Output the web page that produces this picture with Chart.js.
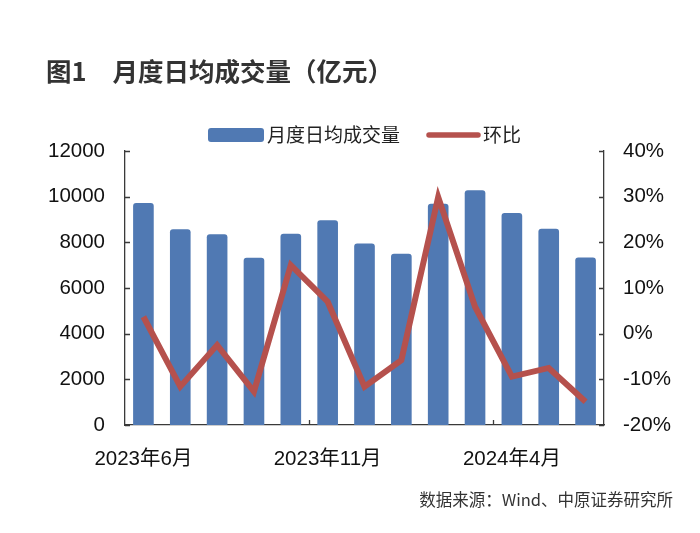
<!DOCTYPE html>
<html>
<head>
<meta charset="utf-8">
<script src="https://cdn.jsdelivr.net/npm/chart.js@4.4.1/dist/chart.umd.min.js"></script>
<style>
  html, body { margin: 0; padding: 0; background: #fff; }
  #wrap { position: relative; width: 700px; height: 533px; overflow: hidden; }
  #chart { position: absolute; left: 0; top: 0; }
  .title { position: absolute; left: 46px; top: 55px; font: bold 25.5px "Noto Sans CJK SC", sans-serif; line-height: 30px; color: #333; white-space: nowrap; }
  .title span { margin-left: 26px; }
  .source { position: absolute; right: 27px; top: 488px; font: 16.5px "Noto Sans CJK SC", sans-serif; line-height: 22px; color: #333; white-space: nowrap; }
</style>
</head>
<body>
<div id="wrap">
  <canvas id="chart" width="700" height="533"></canvas>
  <div class="title">图1<span>月度日均成交量（亿元）</span></div>
  <div class="source">数据来源：Wind、中原证券研究所</div>
</div>
<script>
// data
var months = ['2023年6月', '2023年7月', '2023年8月', '2023年9月', '2023年10月', '2023年11月', '2023年12月',
              '2024年1月', '2024年2月', '2024年3月', '2024年4月', '2024年5月', '2024年6月'];
var volume = [9720, 8575, 8355, 7320, 8380, 8970, 7950, 7500, 9695, 10280, 9290, 8590, 7335];
var mom = [3.7, -11.6, -2.5, -12.7, 15.0, 7.0, -11.6, -5.8, 29.9, 5.9, -9.4, -7.5, -14.9];
var leftTicks = [0, 2000, 4000, 6000, 8000, 10000, 12000];
var rightTicks = [-20, -10, 0, 10, 20, 30, 40];

var barColor = '#5079b3';
var lineColor = '#b5514d';
var axisColor = '#3a3a3a';
var numFont = '"Liberation Sans", "Noto Sans CJK SC", sans-serif';
var cjkFont = '"Noto Sans CJK SC", sans-serif';

// short tick marks drawn on the inner side of the axes
var innerTicks = {
    id: 'innerTicks',
    afterDraw: function (chart) {
        var ctx = chart.ctx, a = chart.chartArea;
        var x = chart.scales.x, y = chart.scales.y, y1 = chart.scales.y1;
        ctx.save();
        ctx.strokeStyle = axisColor;
        ctx.lineWidth = 1.3;
        ctx.beginPath();
        leftTicks.forEach(function (v) {
            var p = Math.round(y.getPixelForValue(v)) + 0.5;
            ctx.moveTo(a.left, p); ctx.lineTo(a.left + 5, p);
        });
        rightTicks.forEach(function (v) {
            var p = Math.round(y1.getPixelForValue(v)) + 0.5;
            ctx.moveTo(a.right, p); ctx.lineTo(a.right - 5, p);
        });
        for (var i = 5; i < months.length; i += 5) {
            var p = Math.round((x.getPixelForValue(i - 1) + x.getPixelForValue(i)) / 2) + 0.5;
            ctx.moveTo(p, a.bottom); ctx.lineTo(p, a.bottom - 5);
        }
        ctx.stroke();
        ctx.restore();
    }
};

// legend drawn above the plot, centred on the plot area
var topLegend = {
    id: 'topLegend',
    afterDraw: function (chart) {
        var ctx = chart.ctx, a = chart.chartArea;
        var names = [chart.data.datasets[1].label, chart.data.datasets[0].label];
        ctx.save();
        ctx.font = '19px ' + cjkFont;
        var w1 = ctx.measureText(names[0]).width;
        var w2 = ctx.measureText(names[1]).width;
        var total = 56 + 3 + w1 + 27 + 53 + 3 + w2;
        var x0 = (a.left + a.right) / 2 - total / 2;
        var cy = 135;
        ctx.fillStyle = barColor;
        ctx.beginPath();
        ctx.roundRect(x0, cy - 7, 56, 14, 3);
        ctx.fill();
        ctx.fillStyle = '#222';
        ctx.textBaseline = 'middle';
        ctx.fillText(names[0], x0 + 59, cy);
        var lx = x0 + 59 + w1 + 27;
        ctx.strokeStyle = lineColor;
        ctx.lineWidth = 5.5;
        ctx.lineCap = 'round';
        ctx.beginPath();
        ctx.moveTo(lx + 2, cy); ctx.lineTo(lx + 51, cy);
        ctx.stroke();
        ctx.fillText(names[1], lx + 56, cy);
        ctx.restore();
    }
};

var ctx = document.getElementById('chart').getContext('2d');
var chart = new Chart(ctx, {
    data: {
        labels: months,
        datasets: [{
            type: 'line',
            label: '环比',
            data: mom,
            yAxisID: 'y1',
            borderColor: lineColor,
            backgroundColor: lineColor,
            borderWidth: 6,
            pointRadius: 0,
            tension: 0,
            order: 0
        }, {
            type: 'bar',
            label: '月度日均成交量',
            data: volume,
            yAxisID: 'y',
            backgroundColor: barColor,
            borderRadius: 3,
            borderSkipped: 'bottom',
            barPercentage: 0.56,
            categoryPercentage: 1,
            order: 1
        }]
    },
    options: {
        responsive: false,
        animation: false,
        devicePixelRatio: 1,
        layout: { padding: { top: 151, left: 0, right: 0, bottom: 0 } },
        plugins: {
            legend: { display: false },
            title: { display: false },
            tooltip: { enabled: false }
        },
        scales: {
            x: {
                type: 'category',
                offset: true,
                grid: { display: false, drawTicks: false },
                border: { display: true, color: axisColor, width: 1.3 },
                ticks: {
                    autoSkip: false,
                    maxRotation: 0,
                    padding: 22,
                    color: '#111',
                    font: { family: numFont, size: 20.5 },
                    callback: function (v, i) { return i % 5 === 0 ? months[i] : ''; }
                },
                afterFit: function (s) { s.height = 108; }
            },
            y: {
                position: 'left',
                min: 0,
                max: 12000,
                grid: { display: false, drawTicks: false },
                border: { display: true, color: axisColor, width: 1.3 },
                ticks: {
                    stepSize: 2000,
                    padding: 20,
                    color: '#111',
                    font: { family: numFont, size: 20.5 },
                    callback: function (v) { return String(v); }
                },
                afterFit: function (s) { s.width = 125; }
            },
            y1: {
                position: 'right',
                min: -20,
                max: 40,
                grid: { display: false, drawTicks: false },
                border: { display: true, color: axisColor, width: 1.3 },
                ticks: {
                    stepSize: 10,
                    padding: 19,
                    color: '#111',
                    font: { family: numFont, size: 20.5 },
                    callback: function (v) { return v + '%'; }
                },
                afterFit: function (s) { s.width = 96; }
            }
        }
    },
    plugins: [innerTicks, topLegend]
});
</script>
</body>
</html>
